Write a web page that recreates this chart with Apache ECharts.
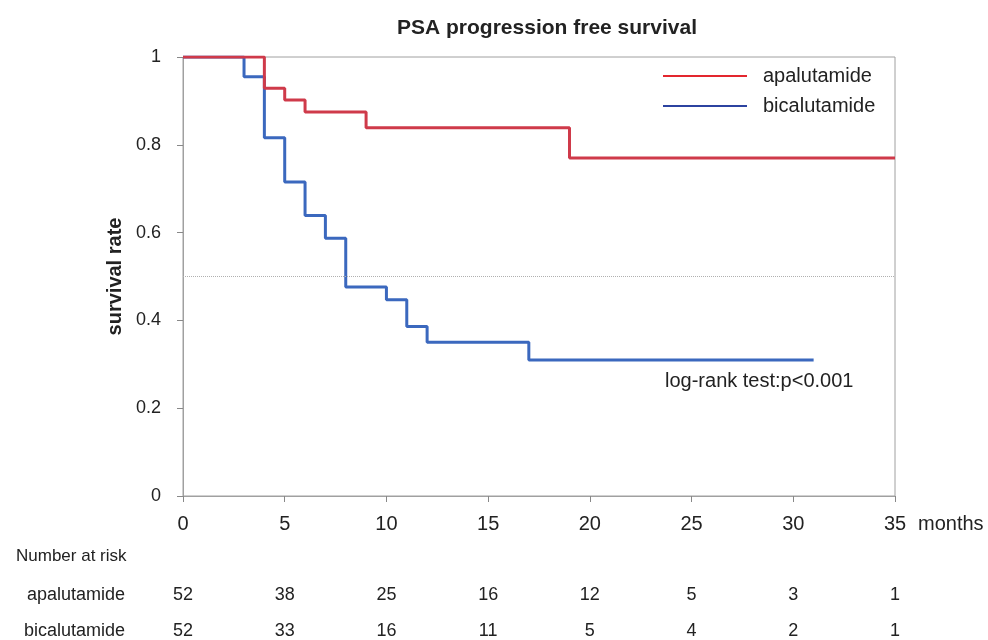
<!DOCTYPE html>
<html>
<head>
<meta charset="utf-8">
<script src="https://cdn.jsdelivr.net/npm/echarts@6/dist/echarts.min.js"></script>
<style>
  html, body { margin: 0; padding: 0; background: #fff; }
  #chart { width: 988px; height: 640px; }
</style>
</head>
<body>
<div id="chart"></div>
<script>
// KM step points [month, survival]
const apaCurve = [[0, 1], [4, 0.929], [5, 0.902], [6, 0.875], [9, 0.839], [19, 0.770], [35, 0.770]];
const bicCurve = [[0, 1], [3, 0.955], [4, 0.816], [5, 0.715], [6, 0.639], [7, 0.587], [8, 0.476],
  [10, 0.447], [11, 0.386], [12, 0.350], [17, 0.310], [31, 0.310]];

// number at risk table
const riskMonths = [0, 5, 10, 15, 20, 25, 30, 35];
const riskGroups = ['apalutamide', 'bicalutamide'];
const apaRisk = [52, 38, 25, 16, 12, 5, 3, 1];
const bicRisk = [52, 33, 16, 11, 5, 4, 2, 1];

const FONT = '"Liberation Sans", Arial, sans-serif';
const chart = echarts.init(document.getElementById('chart'));

const riskData = [];
riskMonths.forEach((m, i) => {
  riskData.push([m, riskGroups[0], apaRisk[i]]);
  riskData.push([m, riskGroups[1], bicRisk[i]]);
});

const option = {
  animation: false,
  textStyle: { fontFamily: FONT, color: '#222' },
  title: [
    {
      text: 'PSA progression free survival',
      left: 542, top: 13, textAlign: 'center',
      textStyle: { fontFamily: FONT, fontSize: 21, fontWeight: 'bold', color: '#222' }
    },
    {
      text: 'months', left: 913, top: 509,
      textStyle: { fontFamily: FONT, fontSize: 20, fontWeight: 'normal', color: '#222' }
    },
    {
      text: 'log-rank test:p<0.001', left: 660, top: 366,
      textStyle: { fontFamily: FONT, fontSize: 20, fontWeight: 'normal', color: '#222' }
    },
    {
      text: 'Number at risk', left: 11, top: 543,
      textStyle: { fontFamily: FONT, fontSize: 17, fontWeight: 'normal', color: '#222' }
    }
  ],
  legend: {
    orient: 'vertical',
    left: 663, top: 66,
    padding: 0,
    icon: 'rect',
    itemWidth: 84, itemHeight: 2, itemGap: 10,
    textStyle: { fontFamily: FONT, fontSize: 20, color: '#222', padding: [0, 0, 0, 11] },
    data: [
      { name: 'apalutamide', itemStyle: { color: '#e3262e' } },
      { name: 'bicalutamide', itemStyle: { color: '#2c43a0' } }
    ]
  },
  grid: [
    { left: 183, right: 93, top: 57, bottom: 144, show: true, borderColor: '#a0a0a0', borderWidth: 1 },
    { left: 183, right: 93, top: 595, height: 36 }
  ],
  xAxis: [
    {
      type: 'value', gridIndex: 0, min: 0, max: 35, interval: 5,
      axisLine: { lineStyle: { color: '#a0a0a0' } },
      axisTick: { show: true, inside: false, length: 6, lineStyle: { color: '#888' } },
      axisLabel: { fontFamily: FONT, fontSize: 20, color: '#222', margin: 18 },
      splitLine: { show: false }
    },
    {
      type: 'value', gridIndex: 1, min: 0, max: 35, interval: 5, show: false
    }
  ],
  yAxis: [
    {
      type: 'value', gridIndex: 0, min: 0, max: 1, interval: 0.2,
      name: 'survival rate', nameLocation: 'middle', nameGap: 48, nameRotate: 90,
      nameTextStyle: { fontFamily: FONT, fontSize: 20, fontWeight: 'bold', color: '#222' },
      axisLine: { show: true, lineStyle: { color: '#a0a0a0' } },
      axisTick: { show: true, length: 6, lineStyle: { color: '#888' } },
      axisLabel: { fontFamily: FONT, fontSize: 18, color: '#222', margin: 22 },
      splitLine: { show: false }
    },
    {
      type: 'category', gridIndex: 1, data: riskGroups, inverse: true, boundaryGap: false,
      axisLine: { show: false }, axisTick: { show: false }, splitLine: { show: false },
      axisLabel: { fontFamily: FONT, fontSize: 18, color: '#222', margin: 58 }
    }
  ],
  series: [
    {
      name: 'apalutamide', type: 'line', step: 'end',
      xAxisIndex: 0, yAxisIndex: 0,
      data: apaCurve, symbol: 'none',
      lineStyle: { color: '#cf3a4a', width: 3 },
      itemStyle: { color: '#cf3a4a' },
      z: 3,
      markLine: {
        silent: true, symbol: 'none',
        label: { show: false },
        lineStyle: { type: 'dotted', color: '#b0b0b0', width: 1 },
        data: [{ yAxis: 0.5 }]
      }
    },
    {
      name: 'bicalutamide', type: 'line', step: 'end',
      xAxisIndex: 0, yAxisIndex: 0,
      data: bicCurve, symbol: 'none',
      lineStyle: { color: '#3b68be', width: 3 },
      itemStyle: { color: '#3b68be' },
      z: 2
    },
    {
      name: 'risk', type: 'scatter',
      xAxisIndex: 1, yAxisIndex: 1,
      data: riskData,
      symbolSize: 0,
      itemStyle: { color: '#222', opacity: 1 },
      label: {
        show: true, position: [0, 0], align: 'center', verticalAlign: 'middle',
        formatter: (p) => String(p.value[2]),
        fontFamily: FONT, fontSize: 18, color: '#222', textBorderWidth: 0
      },
      silent: true
    }
  ]
};

chart.setOption(option);
</script>
</body>
</html>
